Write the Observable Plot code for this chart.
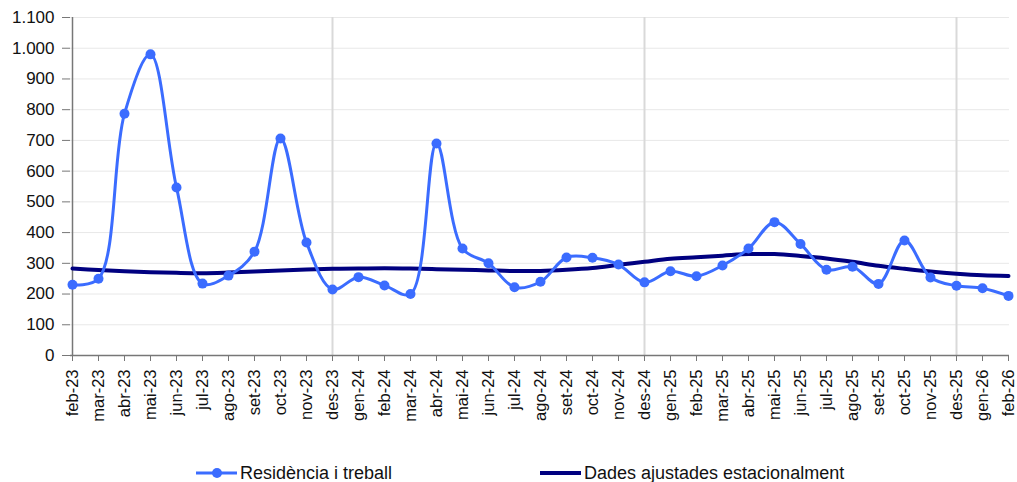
<!DOCTYPE html>
<html>
<head>
<meta charset="utf-8">
<script src="https://cdn.jsdelivr.net/npm/d3@7"></script>
<script src="https://cdn.jsdelivr.net/npm/@observablehq/plot@0.6"></script>
<style>
  body { margin: 0; background: #fff; font-family: "Liberation Sans", Arial, sans-serif; }
  #chart { position: relative; width: 1017px; }
  .legend { position: relative; height: 42px; width: 1017px; font-size: 18px; color: #111; }
  .legend .item { position: absolute; top: 22px; display: flex; align-items: center; height: 22px; }
  .legend svg { margin-right: 3px; }
</style>
</head>
<body>
<div id="chart"></div>
<script>
const months = ["feb-23","mar-23","abr-23","mai-23","jun-23","jul-23","ago-23","set-23","oct-23","nov-23","des-23",
  "gen-24","feb-24","mar-24","abr-24","mai-24","jun-24","jul-24","ago-24","set-24","oct-24","nov-24","des-24",
  "gen-25","feb-25","mar-25","abr-25","mai-25","jun-25","jul-25","ago-25","set-25","oct-25","nov-25","des-25",
  "gen-26","feb-26"];
const residencia = [230,250,787,980,547,234,260,338,706,368,215,
  255,228,200,690,348,300,222,240,319,318,296,238,
  274,258,293,348,434,363,279,289,233,374,254,227,
  219,194];
const ajustades = [283,278,274,271,269,268,270,273,277,280,282,
  283,284,283,281,279,277,275,275,279,285,295,305,
  315,320,325,330,330,324,316,305,292,282,273,266,
  261,259];
const yearBreaks = ["des-23","des-24","des-25"];
const yTicks = [0,100,200,300,400,500,600,700,800,900,1000,1100];
const seriesNames = ["Residència i treball","Dades ajustades estacionalment"];

const blue = "#3b6cff", navy = "#000080";
const fmt = d3.formatLocale({decimal: ",", thousands: ".", grouping: [3], currency: ["", "€"]}).format(",");

const rows = months.map((m, i) => ({month: m, res: residencia[i], adj: ajustades[i]}));

const plot = Plot.plot({
  width: 1017,
  height: 440,
  marginLeft: 70,
  marginRight: 8,
  marginTop: 17,
  marginBottom: 85,
  style: {fontFamily: "'Liberation Sans', Arial, sans-serif", background: "#fff", color: "#111"},
  x: {type: "point", domain: months, padding: 0},
  y: {domain: [0, 1100]},
  marks: [
    Plot.gridY(yTicks, {stroke: "#e8e8e8", strokeOpacity: 1, strokeWidth: 1}),
    Plot.ruleX(yearBreaks, {stroke: "#d9d9d9", strokeWidth: 2}),
    Plot.axisY(yTicks, {tickFormat: fmt, tickSize: 8, fontSize: 17, tickPadding: 8, stroke: "#777", label: null}),
    Plot.ruleX([months[0]], {stroke: "#777", strokeWidth: 1.5}),
    Plot.ruleY([0], {stroke: "#777", strokeWidth: 1.5}),
    Plot.axisX({tickRotate: -90, tickSize: 6, fontSize: 16.5, tickPadding: 8, stroke: "#777", label: null}),
    Plot.line(rows, {x: "month", y: "adj", stroke: navy, strokeWidth: 4, curve: "catmull-rom"}),
    Plot.line(rows, {x: "month", y: "res", stroke: blue, strokeWidth: 3, curve: "catmull-rom"}),
    Plot.dot(rows, {x: "month", y: "res", fill: blue, r: 5})
  ]
});
document.getElementById("chart").appendChild(plot);

const legend = document.createElement("div");
legend.className = "legend";
legend.innerHTML = `
  <div class="item" style="left:196px">
    <svg width="41" height="12"><line x1="0" y1="6" x2="41" y2="6" stroke="${blue}" stroke-width="3"/><circle cx="21" cy="6" r="5" fill="${blue}"/></svg>
    <span>${seriesNames[0]}</span>
  </div>
  <div class="item" style="left:540px">
    <svg width="41" height="12"><line x1="0" y1="6" x2="41" y2="6" stroke="${navy}" stroke-width="4"/></svg>
    <span>${seriesNames[1]}</span>
  </div>`;
document.getElementById("chart").appendChild(legend);
</script>
</body>
</html>
